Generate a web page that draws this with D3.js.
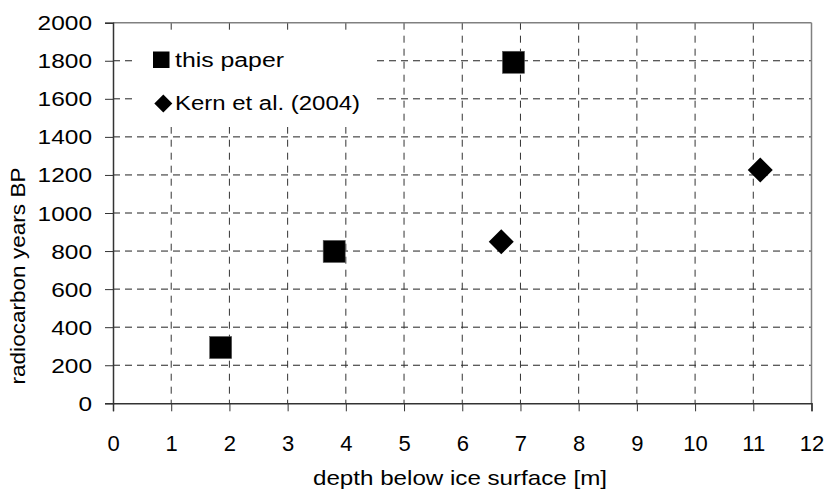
<!DOCTYPE html>
<html><head><meta charset="utf-8">
<script src="https://cdn.jsdelivr.net/npm/d3@7"></script>
<style>body{margin:0;background:#fff}svg{display:block}text{font-family:"Liberation Sans",Arial,sans-serif;fill:#000}</style>
</head><body><svg id="c" width="826" height="493"></svg>
<script>
const xTicks = [0,1,2,3,4,5,6,7,8,9,10,11,12];
const yTicks = [0,200,400,600,800,1000,1200,1400,1600,1800,2000];
const thisPaperDepth = [1.85, 3.80, 6.88];
const thisPaperAge = [293, 798, 1792];
const kernDepth = [6.67, 11.12];
const kernAge = [849, 1226];
const seriesNames = ["this paper", "Kern et al. (2004)"];
const xLabel = "depth below ice surface [m]";
const yLabel = "radiocarbon years BP";

const svg = d3.select("#c");
const L = 113, R = 811.5, T = 22.7, B = 403.3;
const x = d3.scaleLinear().domain([0,12]).range([L,R]);
const y = d3.scaleLinear().domain([0,2000]).range([B,T]);

// grid
svg.append("g").selectAll("line").data(yTicks.filter(d=>d>0&&d<2000)).join("line")
  .attr("x1",L).attr("x2",R).attr("y1",d=>y(d)).attr("y2",d=>y(d))
  .attr("stroke","#222").attr("stroke-width",1).attr("stroke-dasharray","7,5");
svg.append("g").selectAll("line").data(xTicks.filter(d=>d>0&&d<12)).join("line")
  .attr("y1",T).attr("y2",B).attr("x1",d=>x(d)).attr("x2",d=>x(d))
  .attr("stroke","#333").attr("stroke-width",1).attr("stroke-dasharray","7,6");

// frame top/right
svg.append("line").attr("x1",L).attr("x2",R).attr("y1",T).attr("y2",T).attr("stroke","#808080").attr("stroke-width",1.5);
svg.append("line").attr("x1",R).attr("x2",R).attr("y1",T).attr("y2",B).attr("stroke","#808080").attr("stroke-width",1.5);

// legend box
svg.append("rect").attr("x",137).attr("y",31).attr("width",237).attr("height",96).attr("fill","#fff");

// axes
const xAxis = d3.axisBottom(x).tickValues(xTicks).tickSize(8).tickFormat(d3.format("d"));
const gx = svg.append("g").attr("transform",`translate(0,${B})`).call(xAxis);
const yAxis = d3.axisLeft(y).tickValues(yTicks).tickSize(8).tickPadding(13).tickFormat(d3.format("d"));
const gy = svg.append("g").attr("transform",`translate(${L},0)`).call(yAxis);
[gx,gy].forEach(g=>{
  g.select(".domain").attr("stroke","#333").attr("stroke-width",1.5);
  g.selectAll(".tick line").attr("stroke","#333");
  g.selectAll(".tick text").attr("font-family","Liberation Sans, Arial, sans-serif").attr("fill","#000");
});
gx.selectAll(".tick text").attr("font-size",22).attr("y",47.5).attr("dy",0);
gy.selectAll(".tick text").attr("font-size",19.5).attr("dy","0.36em")
  .attr("textLength",d=>String(d).length*13.6).attr("lengthAdjust","spacingAndGlyphs");

// axis titles
svg.append("text").attr("x",460).attr("y",485).attr("text-anchor","middle").attr("font-size",21)
  .attr("textLength",294).attr("lengthAdjust","spacingAndGlyphs").text(xLabel);
svg.append("text").attr("transform","translate(25,276) rotate(-90)").attr("text-anchor","middle").attr("font-size",19.5)
  .attr("textLength",217).attr("lengthAdjust","spacingAndGlyphs").text(yLabel);

// points
const sq = 22, dm = 25;
svg.append("g").selectAll("rect").data(thisPaperDepth.map((d,i)=>[d,thisPaperAge[i]])).join("rect")
  .attr("x",d=>x(d[0])-sq/2).attr("y",d=>y(d[1])-sq/2).attr("width",sq).attr("height",sq).attr("fill","#000")
  .attr("stroke","#555").attr("stroke-width",0.6);
const diamond = (cx,cy,s)=>`M${cx},${cy-s/2}L${cx+s/2},${cy}L${cx},${cy+s/2}L${cx-s/2},${cy}Z`;
svg.append("g").selectAll("path").data(kernDepth.map((d,i)=>[d,kernAge[i]])).join("path")
  .attr("d",d=>diamond(x(d[0]),y(d[1]),dm)).attr("fill","#000");

// legend
svg.append("rect").attr("x",153).attr("y",51.5).attr("width",16.5).attr("height",16.5).attr("fill","#000");
svg.append("text").attr("x",175).attr("y",67).attr("font-size",20)
  .attr("textLength",109).attr("lengthAdjust","spacingAndGlyphs").text(seriesNames[0]);
svg.append("path").attr("d",diamond(163.3,103.5,18)).attr("fill","#000");
svg.append("text").attr("x",175).attr("y",110).attr("font-size",20)
  .attr("textLength",185).attr("lengthAdjust","spacingAndGlyphs").text(seriesNames[1]);
</script></body></html>
